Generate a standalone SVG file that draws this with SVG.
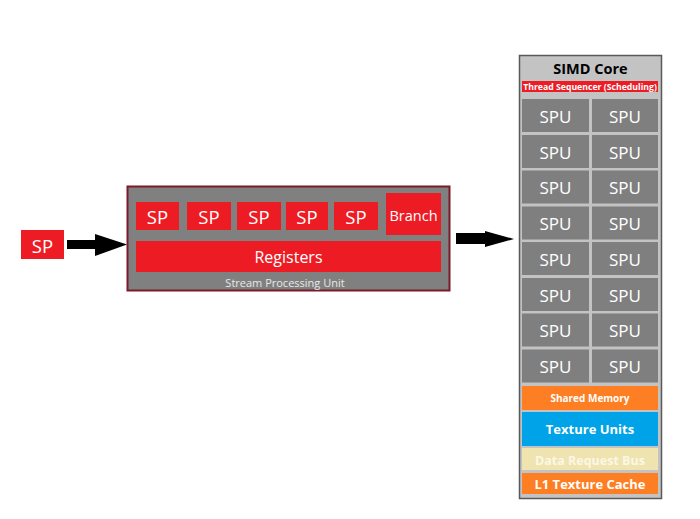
<svg xmlns="http://www.w3.org/2000/svg" width="700" height="519" viewBox="0 0 700 519">
<style>
text{font-family:"Open Sans","Liberation Sans",sans-serif;fill:#fff;text-anchor:middle;dominant-baseline:central}
.red{fill:#ed1c24}
.spu{fill:#7f7f7f}
.sp{font-size:18.5px}
.spt{font-size:17px}
.b{font-weight:bold}
</style>
<rect width="700" height="519" fill="#fff"/>
<g id="connectors">
<path d="M67,244.5 H96" stroke="#000" stroke-width="9"/>
<path d="M95,234 L127,244.5 L95,256 Z" fill="#000"/>
<path d="M456,238.5 H486" stroke="#000" stroke-width="11"/>
<path d="M485,231 L514,239 L485,247 Z" fill="#000"/>
</g>
<g id="sp-input">
<rect class="red" x="21" y="230" width="43" height="29"/>
<text class="sp" x="42.5" y="245">SP</text>
</g>
<g id="stream-processing-unit">
<rect x="127.5" y="186.5" width="322" height="104" fill="#808080" stroke="#7a1a2a" stroke-width="2"/>
<rect class="red" x="136" y="202" width="43" height="28"/>
<text class="sp" x="157.5" y="216.5">SP</text>
<rect class="red" x="187" y="202" width="44" height="28"/>
<text class="sp" x="209" y="216.5">SP</text>
<rect class="red" x="237" y="202" width="44" height="28"/>
<text class="sp" x="259" y="216.5">SP</text>
<rect class="red" x="286" y="202" width="42" height="28"/>
<text class="sp" x="307" y="216.5">SP</text>
<rect class="red" x="334" y="202" width="44" height="28"/>
<text class="sp" x="356" y="216.5">SP</text>
<rect class="red" x="386" y="193" width="55" height="42"/>
<text x="413.5" y="215" font-size="14.5">Branch</text>
<rect class="red" x="136" y="241" width="305" height="31"/>
<text x="288.5" y="257" font-size="16">Registers</text>
<text x="285" y="282" font-size="11" style="fill:#e8e8e8">Stream Processing Unit</text>
</g>
<g id="simd-core">
<rect x="519.5" y="55.5" width="142" height="443" fill="#c3c3c3" stroke="#5a5a5a" stroke-width="1.5"/>
<text x="590.5" y="68" font-size="14.5" class="b" style="fill:#000">SIMD Core</text>
<rect class="red" x="522" y="81" width="136" height="11"/>
<text x="590" y="87" font-size="8.7" class="b">Thread Sequencer (Scheduling)</text>
<g id="spu-grid">
<rect class="spu" x="522" y="99" width="67" height="33"/><text class="spt" x="555.5" y="116">SPU</text>
<rect class="spu" x="592" y="99" width="66" height="33"/><text class="spt" x="625" y="116">SPU</text>
<rect class="spu" x="522" y="135" width="67" height="33"/><text class="spt" x="555.5" y="152">SPU</text>
<rect class="spu" x="592" y="135" width="66" height="33"/><text class="spt" x="625" y="152">SPU</text>
<rect class="spu" x="522" y="170.5" width="67" height="33"/><text class="spt" x="555.5" y="187.5">SPU</text>
<rect class="spu" x="592" y="170.5" width="66" height="33"/><text class="spt" x="625" y="187.5">SPU</text>
<rect class="spu" x="522" y="206.5" width="67" height="33"/><text class="spt" x="555.5" y="223">SPU</text>
<rect class="spu" x="592" y="206.5" width="66" height="33"/><text class="spt" x="625" y="223">SPU</text>
<rect class="spu" x="522" y="242" width="67" height="33"/><text class="spt" x="555.5" y="259">SPU</text>
<rect class="spu" x="592" y="242" width="66" height="33"/><text class="spt" x="625" y="259">SPU</text>
<rect class="spu" x="522" y="278" width="67" height="33"/><text class="spt" x="555.5" y="295">SPU</text>
<rect class="spu" x="592" y="278" width="66" height="33"/><text class="spt" x="625" y="295">SPU</text>
<rect class="spu" x="522" y="313.5" width="67" height="33"/><text class="spt" x="555.5" y="330.5">SPU</text>
<rect class="spu" x="592" y="313.5" width="66" height="33"/><text class="spt" x="625" y="330.5">SPU</text>
<rect class="spu" x="522" y="349.5" width="67" height="33"/><text class="spt" x="555.5" y="366">SPU</text>
<rect class="spu" x="592" y="349.5" width="66" height="33"/><text class="spt" x="625" y="366">SPU</text>
</g>
<rect x="522" y="386" width="136" height="24" fill="#fd7e23"/>
<text x="590" y="398" font-size="10" class="b">Shared Memory</text>
<rect x="522" y="412" width="136" height="34" fill="#00a2e8"/>
<text x="590" y="428.5" font-size="13" class="b">Texture Units</text>
<rect x="522" y="448" width="136" height="22" fill="#efe4b0"/>
<text x="590" y="460" font-size="12.5" class="b" style="fill:#fbf7e6">Data Request Bus</text>
<rect x="522" y="473" width="136" height="21" fill="#fd7e23"/>
<text x="590" y="484" font-size="13" class="b">L1 Texture Cache</text>
</g>
</svg>
